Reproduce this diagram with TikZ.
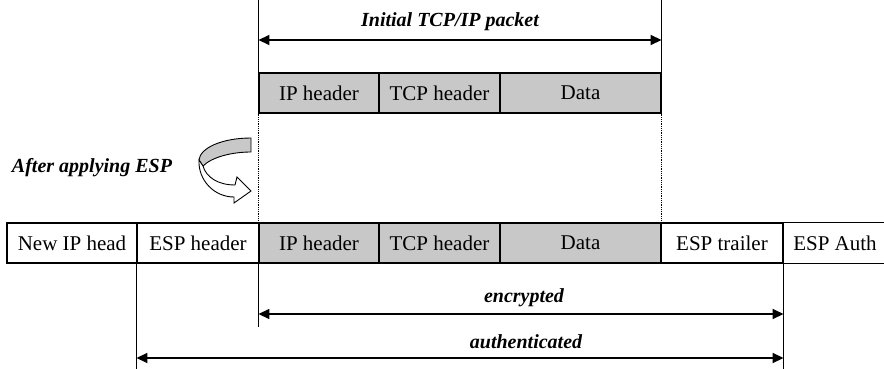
\documentclass[tikz,border=0pt]{standalone}
\usepackage{fontspec}
\setmainfont{Liberation Serif}
\usetikzlibrary{arrows.meta}
\definecolor{fieldgray}{RGB}{200,200,200}

\newcommand{\boxfont}{\fontsize{21}{24}\selectfont}
\newcommand{\lblfont}{\fontsize{20}{24}\selectfont\bfseries\itshape}

\tikzset{
    field/.style={draw, line width=1.1pt, minimum height=40pt, inner sep=0pt, font=\boxfont},
    innerfield/.style={field, fill=fieldgray},
    lbl/.style={font=\lblfont, inner sep=0pt},
    guide/.style={line width=0.9pt},
    dotguide/.style={dash pattern=on 1pt off 0.8pt, line width=1.5pt},
    span/.style={{Triangle[length=11pt,width=10pt]}-{Triangle[length=11pt,width=10pt]}, line width=1.6pt}
}

\begin{document}
\begin{tikzpicture}[x=1pt, y=-1pt]
    \useasboundingbox (0,0) rectangle (884,369);

    % Initial packet
    \node[innerfield, minimum width=120pt] (ipA) at (319,93) {IP header};
    \node[innerfield, minimum width=121pt] (tcpA) at (439.5,93) {TCP header};
    \node[innerfield, minimum width=161pt] (dataA) at (580.5,93) {Data};

    % Packet after ESP
    \node[field, minimum width=130pt] (newip) at (72,243) {New IP head};
    \node[field, minimum width=122pt] (esph) at (198,243) {ESP header};
    \node[innerfield, minimum width=120pt] (ipB) at (319,243) {IP header};
    \node[innerfield, minimum width=121pt] (tcpB) at (439.5,243) {TCP header};
    \node[innerfield, minimum width=161pt] (dataB) at (580.5,243) {Data};
    \node[field, minimum width=122pt] (esptr) at (722,243) {ESP trailer};
    \node[font=\boxfont, minimum width=104pt, minimum height=40pt, inner sep=0pt] (espauth) at (835,243) {ESP Auth};
    \draw[line width=1.1pt] (espauth.north west) -- (espauth.north east);
    \draw[line width=1.1pt] (espauth.south west) -- (espauth.south east);

    % Guide lines
    \draw[guide] (ipA.north west) -- (ipA.north west |- 0,0);
    \draw[guide] (dataA.north east) -- (dataA.north east |- 0,0);
    \draw[dotguide] (ipA.south west) -- (ipB.north west);
    \draw[dotguide] (dataA.south east) -- (dataB.north east);
    \draw[guide] (ipB.south west) -- (ipB.south west |- 0,327);
    \draw[guide] (esph.south west) -- (esph.south west |- 0,369);
    \draw[guide] (esptr.south east) -- (esptr.south east |- 0,369);

    % Spans
    \draw[span] (ipA.west |- 0,40) -- (dataA.east |- 0,40);
    \node[lbl] (initial) at (450,22) {Initial TCP/IP packet};
    \draw[span] (ipB.west |- 0,314) -- (esptr.east |- 0,314);
    \node[lbl] (encr) at (524,298) {encrypted};
    \draw[span] (esph.west |- 0,358) -- (esptr.east |- 0,358);
    \node[lbl] (auth) at (526,342) {authenticated};

    % Curled arrow
    \node[lbl] (apply) at (92,168) {After applying ESP};
    \filldraw[fill=fieldgray, line width=0.9pt] (251,138) .. controls (222,138) and (200,148) .. (199,160)
        -- (203,166) .. controls (212,157) and (232,152) .. (251,152) -- cycle;
    \filldraw[fill=white, line width=0.9pt] (199,160) .. controls (198,180) and (214,197) .. (234,197)
        -- (234,203) -- (251,191) -- (237,177) -- (235,185)
        .. controls (218,185) and (206,177) .. (203,166) -- cycle;
\end{tikzpicture}
\end{document}
